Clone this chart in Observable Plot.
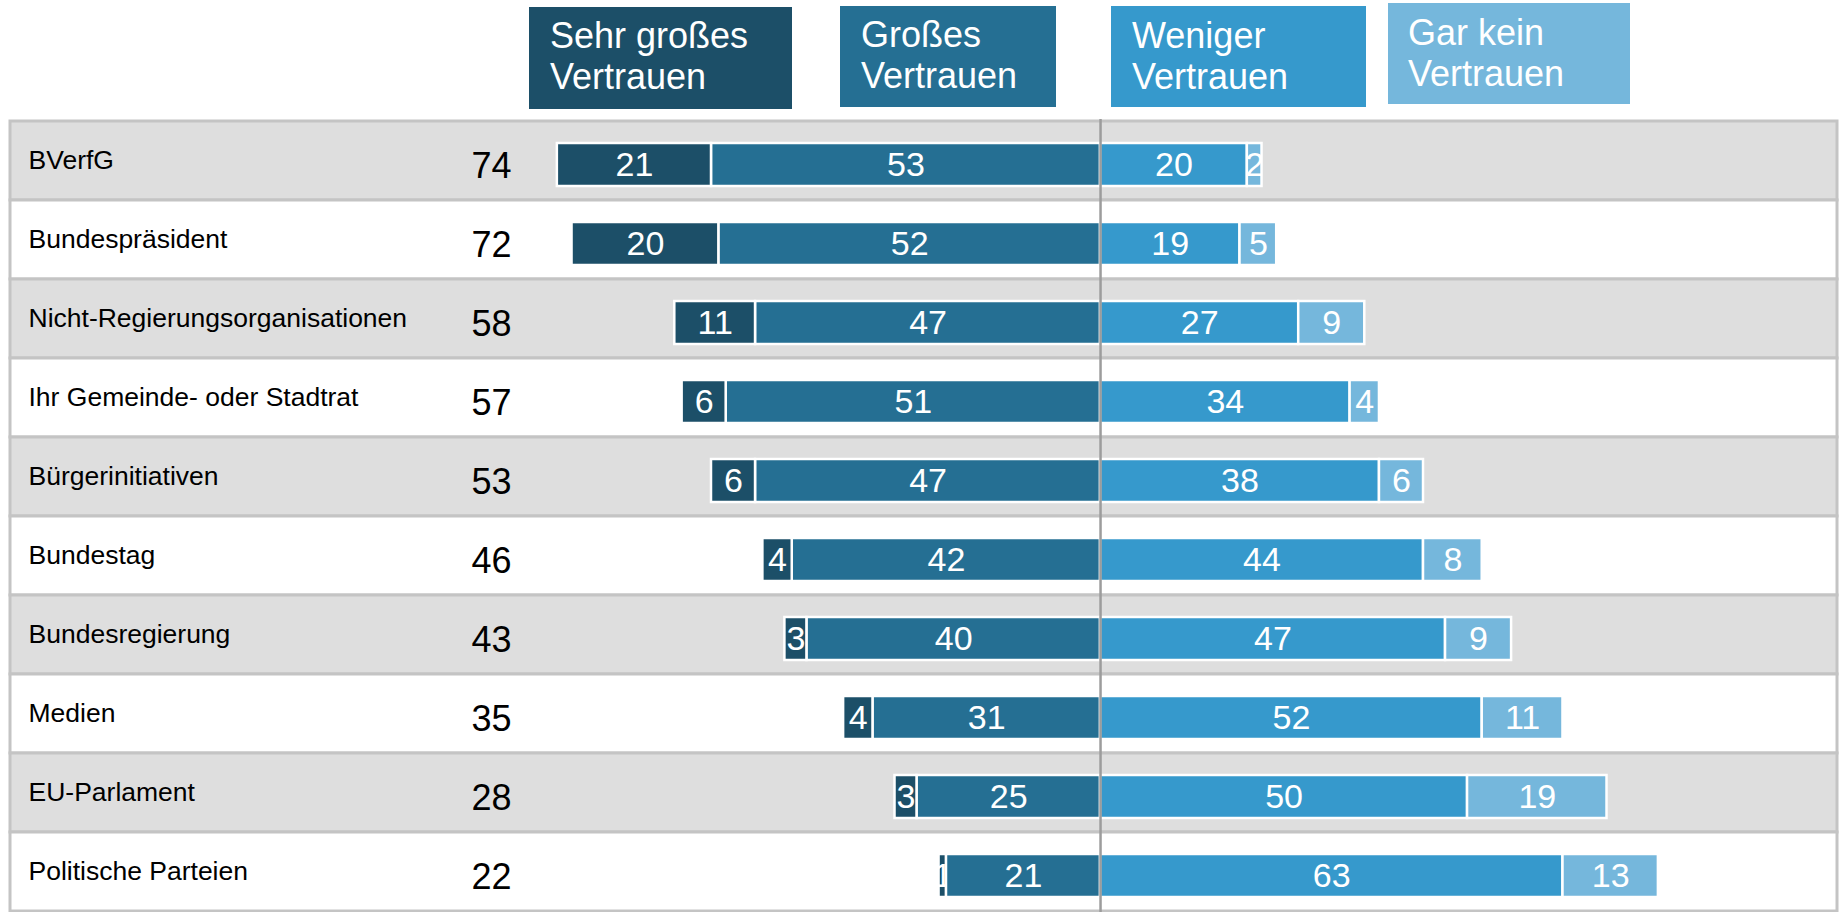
<!DOCTYPE html>
<html><head><meta charset="utf-8">
<script src="https://cdn.jsdelivr.net/npm/d3@7"></script>
<script src="https://cdn.jsdelivr.net/npm/@observablehq/plot@0.6"></script>
<style>
html,body{margin:0;padding:0;background:#fff;}
body{width:1839px;height:912px;overflow:hidden;font-family:"Liberation Sans",Arial,sans-serif;}
#legend{position:relative;height:117px;}
.lg{position:absolute;box-sizing:border-box;color:#fff;font-size:36px;line-height:41px;white-space:nowrap;}
#chart svg{display:block}
</style></head><body>
<div id="legend"></div><div id="chart"></div>
<script>
// ---- data ----
const institutions = ["BVerfG","Bundespräsident","Nicht-Regierungsorganisationen","Ihr Gemeinde- oder Stadtrat","Bürgerinitiativen","Bundestag","Bundesregierung","Medien","EU-Parlament","Politische Parteien"];
const totals    = [74,72,58,57,53,46,43,35,28,22];
const sehrGross = [21,20,11,6,6,4,3,4,3,1];
const gross     = [53,52,47,51,47,42,40,31,25,21];
const weniger   = [20,19,27,34,38,44,47,52,50,63];
const garKein   = [2,5,9,4,6,8,9,11,19,13];
const seriesNames = ["Sehr großes Vertrauen","Großes Vertrauen","Weniger Vertrauen","Gar kein Vertrauen"];
const legendLines = [["Sehr großes","Vertrauen"],["Großes","Vertrauen"],["Weniger","Vertrauen"],["Gar kein","Vertrauen"]];

// ---- styles / layout ----
const colors = ["#1c4f68","#256f93","#3699cc","#75b7dc"];
const legendBoxes = [
  {left:529, top:7, width:263, height:102, padLeft:21, padTop:8},
  {left:840, top:6, width:216, height:101, padLeft:21, padTop:8},
  {left:1111, top:6, width:255, height:101, padLeft:21, padTop:9},
  {left:1388, top:3, width:242, height:101, padLeft:20, padTop:9}
];
const xMin = -148.5, xMax = 100.4;
const font = "Liberation Sans, Arial, sans-serif";

// legend
const legend = document.getElementById("legend");
legendLines.forEach((lines, k) => {
  const b = legendBoxes[k];
  const div = document.createElement("div");
  div.className = "lg";
  div.title = seriesNames[k];
  Object.assign(div.style, {left: b.left + "px", top: b.top + "px", width: b.width + "px", height: b.height + "px", paddingLeft: b.padLeft + "px", paddingTop: b.padTop + "px", background: colors[k]});
  div.innerHTML = lines.join("<br>");
  legend.appendChild(div);
});

// table rows
const rows = institutions.map((name, i) => ({name, total: totals[i], band: i % 2 === 0 ? "#dedede" : "#ffffff"}));

// stacked segments (diverging at 0)
const segments = [];
institutions.forEach((name, i) => {
  segments.push({name, series: seriesNames[1], value: gross[i], x1: -gross[i], x2: 0, fill: colors[1]});
  segments.push({name, series: seriesNames[0], value: sehrGross[i], x1: -(gross[i] + sehrGross[i]), x2: -gross[i], fill: colors[0]});
  segments.push({name, series: seriesNames[2], value: weniger[i], x1: 0, x2: weniger[i], fill: colors[2]});
  segments.push({name, series: seriesNames[3], value: garKein[i], x1: weniger[i], x2: weniger[i] + garKein[i], fill: colors[3]});
});

const chart = Plot.plot({
  width: 1839, height: 795,
  marginTop: 2, marginBottom: 0, marginLeft: 10, marginRight: 2,
  x: {domain: [xMin, xMax], axis: null},
  y: {domain: institutions, axis: null, padding: 0},
  color: {type: "identity"},
  style: {fontFamily: font, background: "transparent", overflow: "visible"},
  marks: [
    Plot.barX(rows, {x1: () => xMin, x2: () => xMax, y: "name", fill: "band", stroke: "#c4c4c4", strokeWidth: 3}),
    Plot.text(rows, {y: "name", text: "name", frameAnchor: "left", textAnchor: "start", dx: 18, fontSize: 26.5, fill: "#000"}),
    Plot.text(rows, {y: "name", text: d => String(d.total), frameAnchor: "left", textAnchor: "middle", dx: 481, dy: 5, fontSize: 36, fill: "#000"}),
    Plot.barX(segments, {x1: "x1", x2: "x2", y: "name", fill: "fill", stroke: "#ffffff", strokeWidth: 2.5, insetTop: 22, insetBottom: 14}),
    Plot.text(segments, {x: d => (d.x1 + d.x2) / 2, y: "name", text: d => String(d.value), fill: "#ffffff", fontSize: 34, dy: 4}),
    Plot.ruleX([0], {stroke: "#9c9c9c", strokeWidth: 2.5})
  ]
});
document.getElementById("chart").appendChild(chart);

// clip each value label to its own segment (as in the original, narrow segments cut their numbers)
(function clipLabels() {
  const ns = "http://www.w3.org/2000/svg";
  const barGroups = chart.querySelectorAll('g[aria-label="bar"]');
  const textGroups = chart.querySelectorAll('g[aria-label="text"]');
  if (barGroups.length < 2 || textGroups.length < 3) return;
  const rects = barGroups[1].querySelectorAll("rect");
  const texts = textGroups[2].querySelectorAll("text");
  const defs = document.createElementNS(ns, "defs");
  chart.insertBefore(defs, chart.firstChild);
  texts.forEach((t, i) => {
    const r = rects[i];
    if (!r) return;
    const parent = t.parentNode;
    const m = parent.getCTM().inverse().multiply(r.getCTM());
    const bb = r.getBBox();
    const p1 = new DOMPoint(bb.x, bb.y).matrixTransform(m);
    const p2 = new DOMPoint(bb.x + bb.width, bb.y + bb.height).matrixTransform(m);
    const cp = document.createElementNS(ns, "clipPath");
    cp.setAttribute("id", "segclip" + i);
    cp.setAttribute("clipPathUnits", "userSpaceOnUse");
    const cr = document.createElementNS(ns, "rect");
    cr.setAttribute("x", Math.min(p1.x, p2.x));
    cr.setAttribute("y", Math.min(p1.y, p2.y));
    cr.setAttribute("width", Math.abs(p2.x - p1.x));
    cr.setAttribute("height", Math.abs(p2.y - p1.y));
    cp.appendChild(cr);
    defs.appendChild(cp);
    const g = document.createElementNS(ns, "g");
    g.setAttribute("clip-path", "url(#segclip" + i + ")");
    parent.insertBefore(g, t);
    g.appendChild(t);
  });
})();
</script>
</body></html>
